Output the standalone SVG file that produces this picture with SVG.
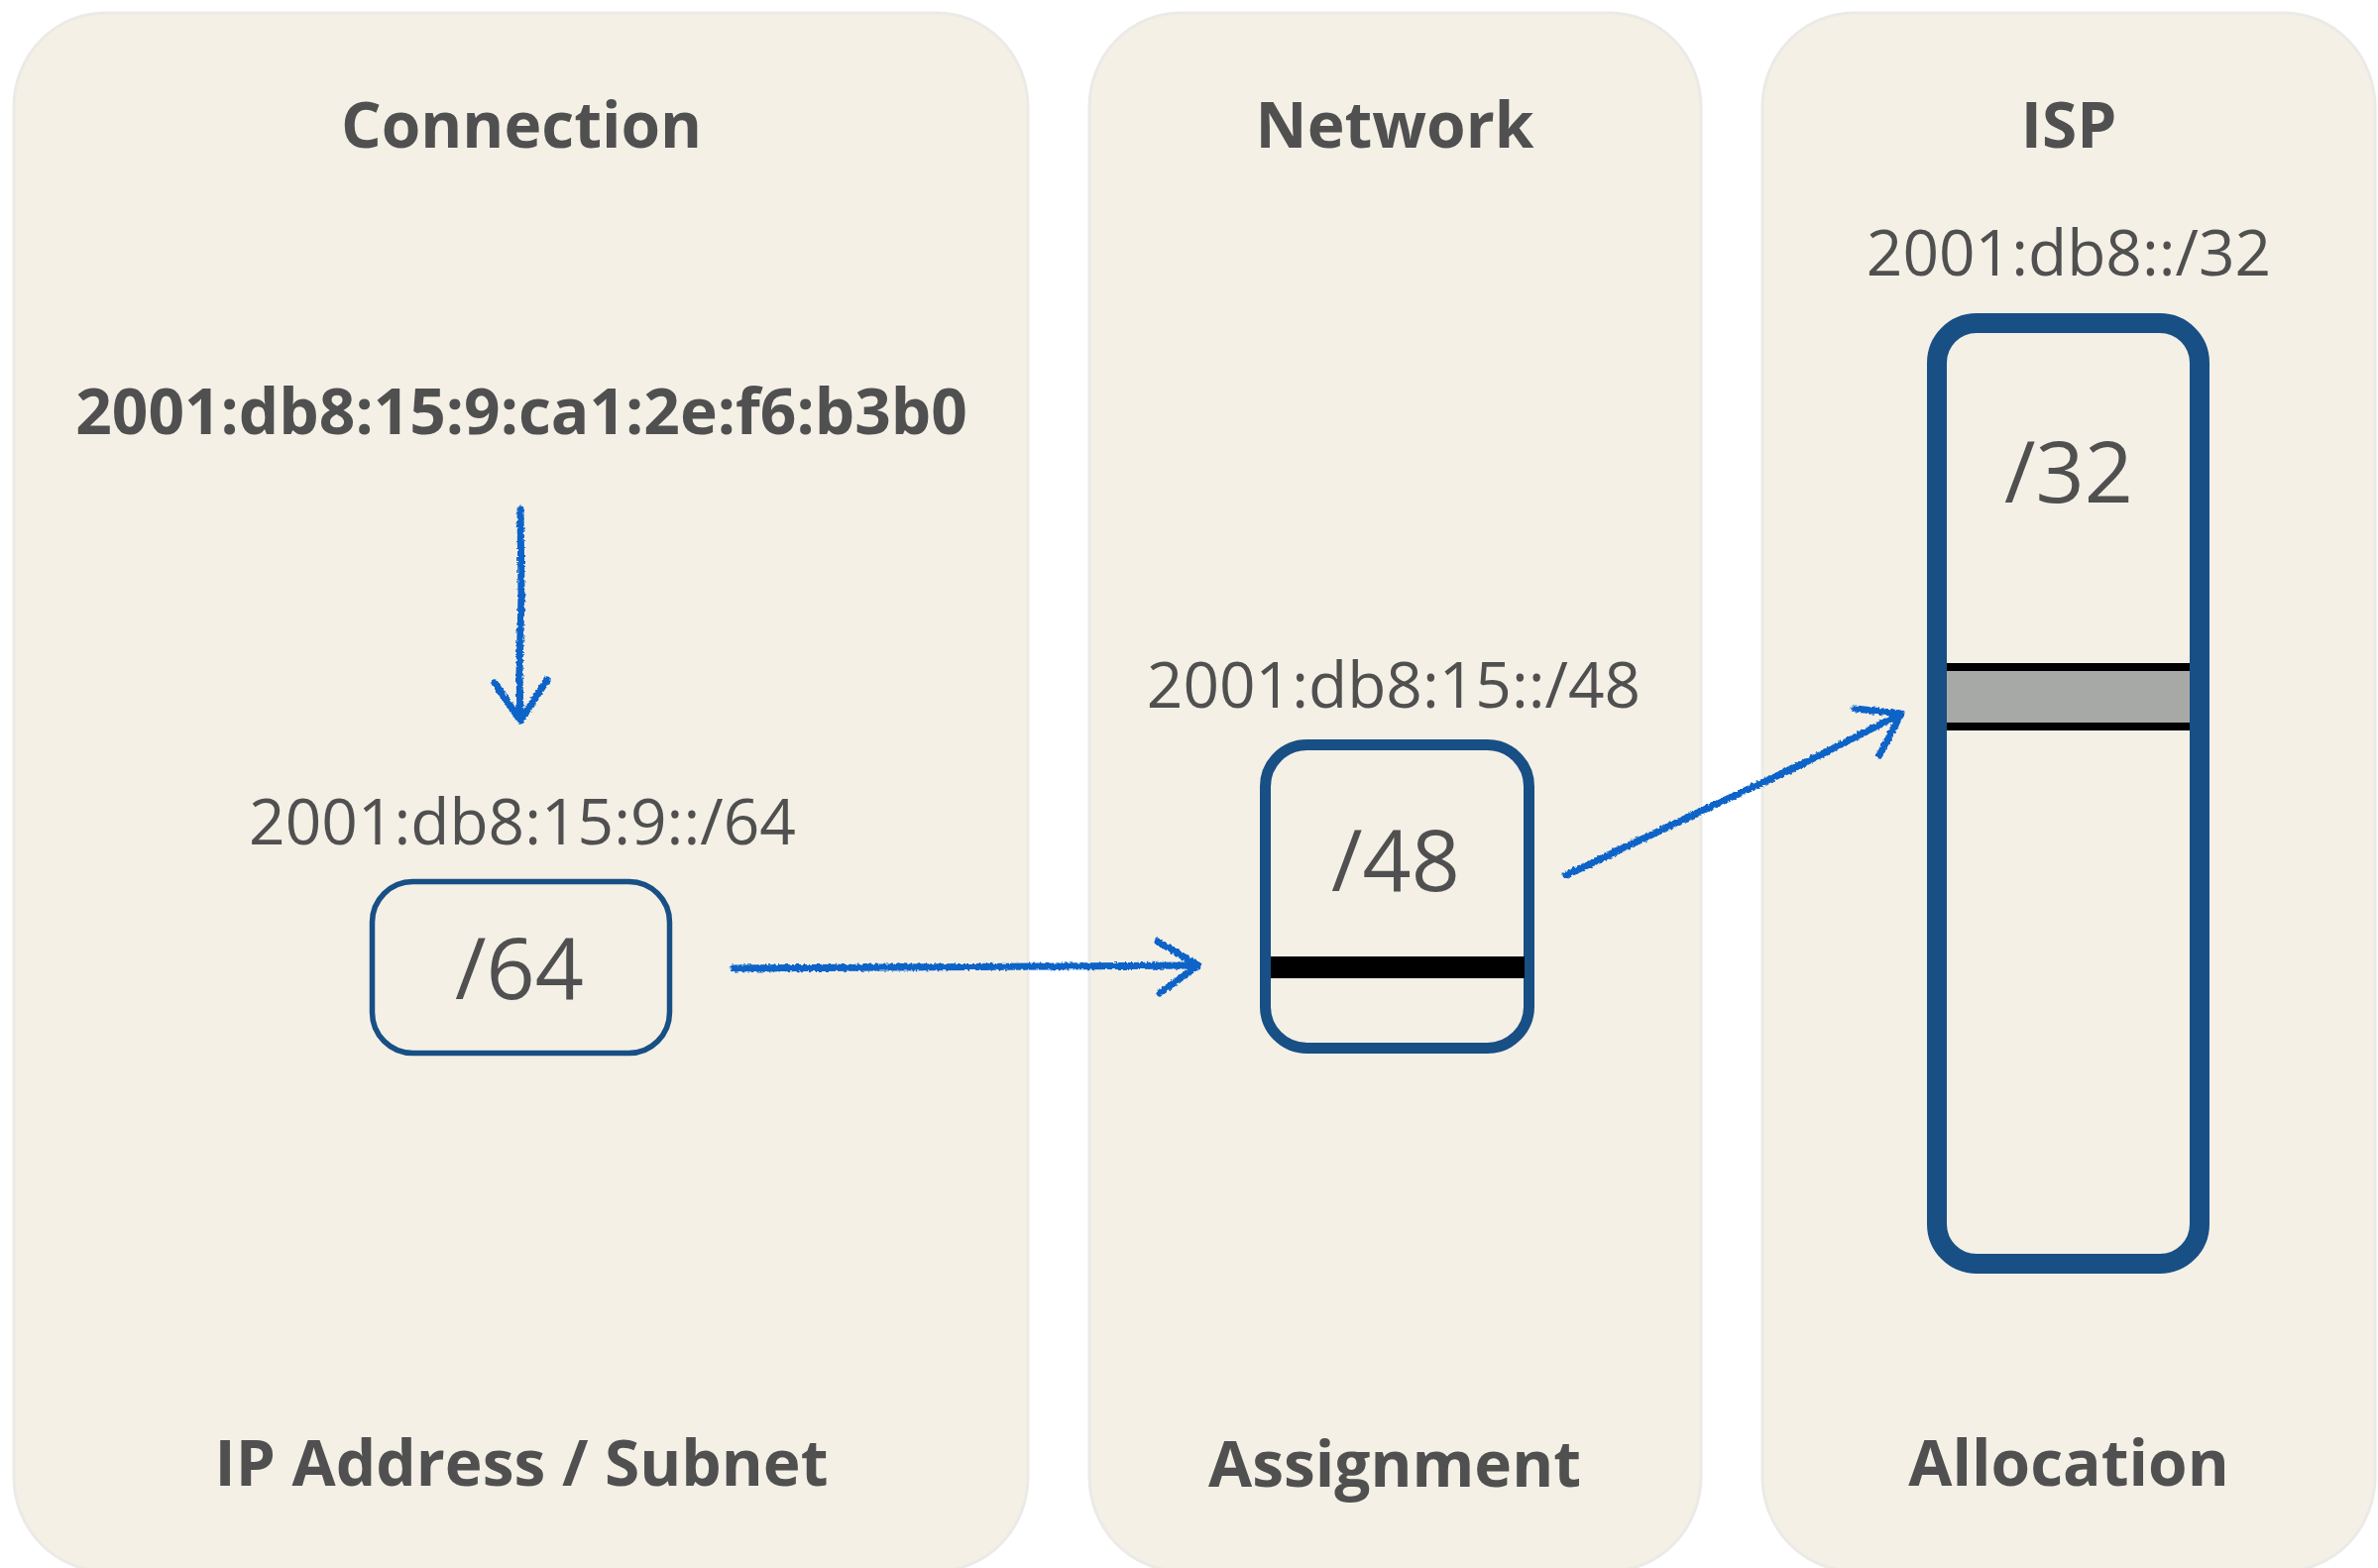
<svg xmlns="http://www.w3.org/2000/svg" width="2399" height="1582" viewBox="0 0 2399 1582">
<style>
.panel{fill:#F4F0E6;stroke:#EBEAE6;stroke-width:3}
.title{font-family:"Open Sans","Noto Sans",sans-serif;font-weight:700;font-size:64px;fill:#505050;text-anchor:middle}
.addr{font-family:"Open Sans","Noto Sans",sans-serif;font-weight:400;font-size:64px;fill:#505050;text-anchor:middle}
.big{font-family:"Open Sans","Noto Sans",sans-serif;font-weight:400;font-size:86px;fill:#505050;text-anchor:middle}
.box{fill:none;stroke:#184F85}
.arrow{fill:none;stroke:#0A64C8;stroke-width:7;stroke-linecap:round;stroke-linejoin:round}
</style>
<defs>
<filter id="rough" filterUnits="userSpaceOnUse" x="0" y="0" width="2399" height="1582">
<feTurbulence type="fractalNoise" baseFrequency="0.35" numOctaves="2" seed="3" result="n"/>
<feDisplacementMap in="SourceGraphic" in2="n" scale="4" xChannelSelector="R" yChannelSelector="G"/>
</filter>
</defs>
<rect width="2399" height="1582" fill="#FFFFFF"/>
<g id="panel-connection">
<rect class="panel" x="14" y="13" width="1023" height="1572" rx="92" ry="95"/>
<text class="title" x="526" y="149">Connection</text>
<text class="title" x="526" y="438">2001:db8:15:9:ca1:2e:f6:b3b0</text>
<text class="addr" x="527" y="852">2001:db8:15:9::/64</text>
<text class="title" x="526" y="1499">IP Address / Subnet</text>
</g>
<g id="panel-network">
<rect class="panel" x="1099" y="13" width="617" height="1572" rx="92" ry="95"/>
<text class="title" x="1407" y="149">Network</text>
<text class="addr" x="1406" y="714">2001:db8:15::/48</text>
<text class="title" x="1407" y="1500">Assignment</text>
</g>
<g id="panel-isp">
<rect class="panel" x="1778" y="13" width="618" height="1572" rx="92" ry="95"/>
<text class="title" x="2087" y="149">ISP</text>
<text class="addr" x="2087" y="278">2001:db8::/32</text>
<text class="title" x="2087" y="1499">Allocation</text>
</g>
<g id="node-64">
<rect class="box" x="375.5" y="889.5" width="300" height="173" rx="41" stroke-width="5.5"/>
<text class="big" x="524" y="1008">/64</text>
</g>
<g id="node-48">
<rect class="box" x="1276.5" y="751.5" width="266" height="306" rx="42" stroke-width="11"/>
<rect x="1282" y="965" width="256" height="22" fill="#000000"/>
<text class="big" x="1408" y="899">/48</text>
</g>
<g id="node-32">
<rect x="1964" y="673" width="245" height="59" fill="#A7A9A7"/>
<rect x="1964" y="669" width="245" height="8" fill="#000000"/>
<rect x="1964" y="729" width="245" height="8" fill="#000000"/>
<rect class="box" x="1954" y="326" width="265" height="949" rx="40" stroke-width="20"/>
<text class="big" x="2087" y="507">/32</text>
</g>
<g id="connectors" filter="url(#rough)">
<path class="arrow" d="M525 514 L526 600 L524 680 L525 726"/>
<path class="arrow" d="M499 689 L525 727 L552 686"/>
<path class="arrow" d="M740 977 L900 976 L1060 975 L1207 974"/>
<path class="arrow" d="M1168 950 L1209 974 L1170 1002"/>
<path class="arrow" d="M1580 883 L1700 826 L1820 770 L1916 721"/>
<path class="arrow" d="M1871 715 L1918 720 L1896 762"/>
</g>
</svg>
